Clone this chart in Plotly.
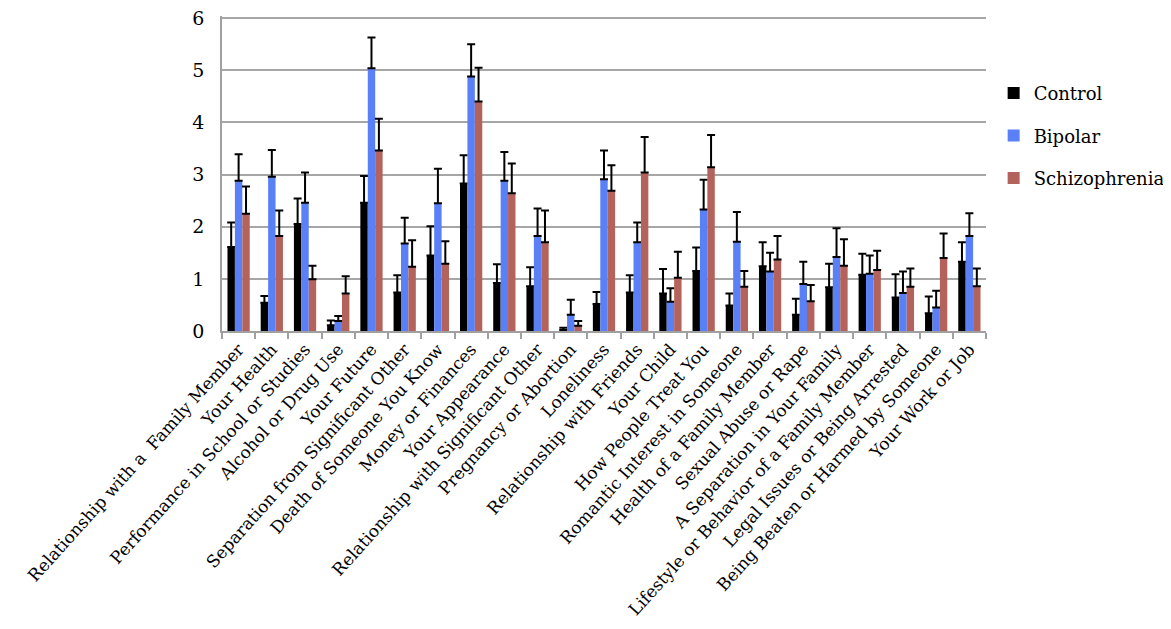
import plotly.graph_objects as go

categories = [
    "Relationship with a\u00a0 Family Member", "Your Health", "Performance in School or Studies",
    "Alcohol or Drug Use", "Your Future", "Separation from Significant Other",
    "Death of Someone You Know", "Money or Finances", "Your Appearance",
    "Relationship with Significant Other", "Pregnancy or Abortion", "Loneliness",
    "Relationship with Friends", "Your Child", "How People Treat You",
    "Romantic Interest in Someone", "Health of a Family Member", "Sexual Abuse or Rape",
    "A Separation in Your Family", "Lifestyle or Behavior of a Family Member",
    "Legal Issues or Being Arrested", "Being Beaten or Harmed by Someone", "Your Work or Job",
]

control = [1.61, 0.54, 2.05, 0.11, 2.46, 0.74, 1.45, 2.83, 0.92, 0.86, 0.02, 0.52,
           0.74, 0.72, 1.15, 0.49, 1.24, 0.31, 0.84, 1.08, 0.64, 0.34, 1.33]
control_err = [0.47, 0.13, 0.49, 0.09, 0.51, 0.33, 0.56, 0.54, 0.36, 0.36, 0.04, 0.23,
               0.33, 0.47, 0.45, 0.23, 0.46, 0.31, 0.45, 0.40, 0.45, 0.32, 0.37]

bipolar = [2.88, 2.96, 2.46, 0.19, 5.04, 1.68, 2.45, 4.88, 2.88, 1.82, 0.31, 2.91,
           1.70, 0.56, 2.33, 1.71, 1.14, 0.90, 1.42, 1.10, 0.73, 0.45, 1.82]
bipolar_err = [0.51, 0.51, 0.58, 0.10, 0.59, 0.49, 0.66, 0.62, 0.55, 0.53, 0.29, 0.55,
               0.38, 0.26, 0.57, 0.57, 0.36, 0.43, 0.55, 0.35, 0.41, 0.32, 0.44]

schizo = [2.25, 1.82, 0.99, 0.72, 3.46, 1.23, 1.29, 4.40, 2.64, 1.70, 0.10, 2.69,
          3.04, 1.02, 3.14, 0.85, 1.37, 0.57, 1.25, 1.17, 0.85, 1.40, 0.86]
schizo_err = [0.52, 0.49, 0.26, 0.33, 0.61, 0.51, 0.43, 0.65, 0.57, 0.61, 0.09, 0.49,
              0.68, 0.50, 0.62, 0.30, 0.45, 0.31, 0.51, 0.37, 0.35, 0.47, 0.34]

series = [
    ("Control", control, control_err, "#000000"),
    ("Bipolar", bipolar, bipolar_err, "#5a80f8"),
    ("Schizophrenia", schizo, schizo_err, "#b4635c"),
]

serif = "DejaVu Serif"

fig = go.Figure()
for name, vals, errs, color in series:
    fig.add_trace(go.Bar(
        x=categories,
        y=vals,
        name=name,
        legendgroup=name,
        marker=dict(color=color, line=dict(width=0)),
        error_y=dict(type="data", array=errs, arrayminus=[0] * len(errs),
                     symmetric=False, color="#000000", thickness=2, width=4),
    ))

# page body adds ~8px offset, margins compensate for that
fig.update_layout(
    width=1171, height=629,
    paper_bgcolor="white", plot_bgcolor="white",
    margin=dict(l=214, r=193, t=8, b=306),
    barmode="group", bargap=0.33, bargroupgap=0,
    font=dict(family=serif, color="#000000"),
    showlegend=True,
    legend=dict(x=1.01, y=0.813, xanchor="left", yanchor="top",
                font=dict(family=serif, size=18, color="#000000"),
                tracegroupgap=16, itemwidth=30),
    xaxis=dict(tickangle=-48, tickfont=dict(family=serif, size=17), showgrid=False,
               showline=True, linecolor="#a0a0a0", linewidth=1.5,
               ticks="outside", tickson="boundaries", ticklen=6,
               tickcolor="#a0a0a0", tickwidth=1.5, automargin=False),
    yaxis=dict(range=[0, 6.04], tickvals=[0, 1, 2, 3, 4, 5, 6],
               tickfont=dict(family=serif, size=19), ticklabeloverflow="allow",
               showgrid=True, gridcolor="#a6a6a6", gridwidth=1.5,
               showline=True, linecolor="#a0a0a0", linewidth=1.5,
               zeroline=False, ticks="", ticklabelstandoff=12, automargin=False),
)

fig.write_html("out.html")
